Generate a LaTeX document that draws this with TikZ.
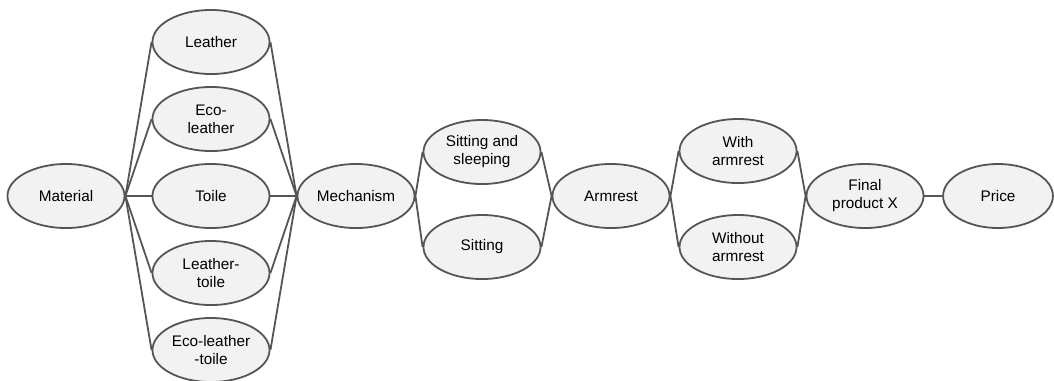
\documentclass[tikz,border=0pt]{standalone}
\usepackage{fontspec}
\setmainfont{Liberation Sans}
\usetikzlibrary{shapes.geometric}
\definecolor{elfill}{HTML}{F2F2F2}
\definecolor{elline}{HTML}{555555}

\begin{document}
\begin{tikzpicture}[x=0.0264cm,y=-0.0264cm]
  \tikzstyle el=[ellipse,draw=elline,line width=1.35pt,fill=elfill,
    minimum width=3.09cm,minimum height=1.69cm,inner sep=0pt,
    align=center,font=\fontsize{11.5}{13.5}\selectfont];
  \tikzstyle ln=[draw=elline,line width=1.35pt];
  \def\m{196}
  \def\r{77}

  \useasboundingbox (0,0) rectangle (1054,380);

  % material and its kinds
  \node[el] (material) at (66,\m) {Material};
  \node[el] (leather) at (211,\m-\r-\r) {Leather};
  \node[el] (ecoleather) at (211,\m-\r) {Eco-\\leather};
  \node[el] (toile) at (211,\m) {Toile};
  \node[el] (leathertoile) at (211,\m+\r) {Leather-\\toile};
  \node[el] (ecoleathertoile) at (211,\m+\r+\r) {Eco-leather\\-toile};

  % mechanism
  \node[el] (mechanism) at (356,\m) {Mechanism};
  \node[el] (sleeping) at (482,152) {Sitting and\\sleeping};
  \node[el] (sitting) at (482,247) {Sitting};

  % armrest
  \node[el] (armrest) at (611,\m) {Armrest};
  \node[el] (witharm) at (738,151) {With\\armrest};
  \node[el] (withoutarm) at (738,247) {Without\\armrest};

  % result
  \node[el] (final) at (865,\m) {Final\\product X};
  \node[el,minimum width=2.9cm] (price) at (998,\m) {Price};

  % connectors
  \foreach \k in {leather,ecoleather,toile,leathertoile,ecoleathertoile} {
    \draw[ln] (material.east) -- (\k.west);
    \draw[ln] (\k.east) -- (mechanism.west);
  }
  \foreach \k in {sleeping,sitting} {
    \draw[ln] (mechanism.east) -- (\k.west);
    \draw[ln] (\k.east) -- (armrest.west);
  }
  \foreach \k in {witharm,withoutarm} {
    \draw[ln] (armrest.east) -- (\k.west);
    \draw[ln] (\k.east) -- (final.west);
  }
  \draw[ln] (final) -- (price);
\end{tikzpicture}
\end{document}
